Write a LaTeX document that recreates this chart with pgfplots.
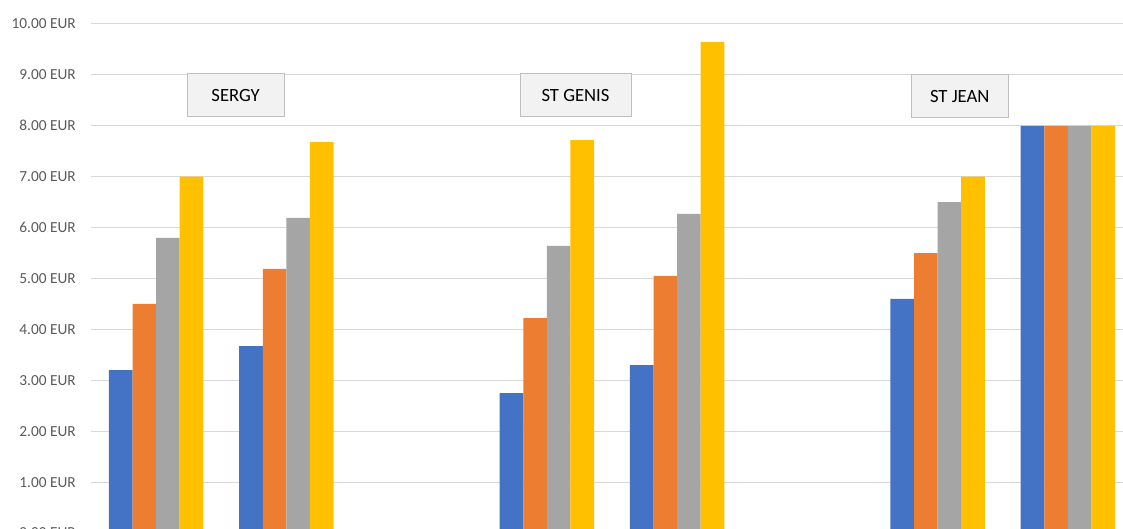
\documentclass[border=0pt]{standalone}
\usepackage{pgfplots}
\pgfplotsset{compat=1.18}
\usepackage{fontspec}
\setmainfont{Carlito}

\definecolor{xblue}{HTML}{4472C4}
\definecolor{xorange}{HTML}{ED7D31}
\definecolor{xgray}{HTML}{A5A5A5}
\definecolor{xyellow}{HTML}{FFC000}
\definecolor{gridc}{HTML}{D9D9D9}
\definecolor{txt}{HTML}{595959}

\begin{document}
\begin{tikzpicture}
\begin{axis}[
    scale only axis,
    width=781.5pt, height=381.75pt,
    xmin=-0.5, xmax=7.5,
    ymin=0, ymax=10,
    ybar=0pt,
    bar width=17.7pt,
    xtick=\empty,
    ytick={0,1,...,10},
    ymajorgrids=true,
    grid style={gridc, line width=0.75pt},
    axis line style={draw=none},
    major tick length=0pt,
    yticklabel style={
        /pgf/number format/.cd, fixed, fixed zerofill, precision=2,
        assume math mode=true,
        /tikz/.cd, font=\fontsize{11.5}{13}\selectfont, text=txt,
        inner xsep=0pt, xshift=-11.25pt},
    yticklabel={\pgfmathprintnumber{\tick} EUR},
    clip=false,
]
    % SERGY (0,1), ST GENIS (3,4), ST JEAN (6,7)
    \addplot[draw=none, fill=xblue]
        coordinates {(0,3.20) (1,3.67) (3,2.75) (4,3.30) (6,4.60) (7,8.00)};
    \addplot[draw=none, fill=xorange]
        coordinates {(0,4.50) (1,5.19) (3,4.22) (4,5.05) (6,5.50) (7,8.00)};
    \addplot[draw=none, fill=xgray]
        coordinates {(0,5.80) (1,6.19) (3,5.64) (4,6.27) (6,6.50) (7,8.00)};
    \addplot[draw=none, fill=xyellow]
        coordinates {(0,7.00) (1,7.68) (3,7.72) (4,9.65) (6,7.00) (7,8.00)};

    \tikzset{lbl/.style={draw=black!25, fill=black!5, line width=0.75pt,
        minimum height=32.25pt, inner sep=0pt,
        font=\fontsize{14}{16}\selectfont}}
    \node[lbl, minimum width=72.75pt] at (axis cs:0.61,8.6) {SERGY};
    \node[lbl, minimum width=83.25pt] at (axis cs:3.22,8.6) {ST GENIS};
    \node[lbl, minimum width=72.5pt] at (axis cs:6.17,8.58) {ST JEAN};

    \coordinate (O) at (rel axis cs:0,0);
\end{axis}
\pgfresetboundingbox
\useasboundingbox ([shift={(-68.25pt,3.75pt)}]O) rectangle ([shift={(774pt,399.75pt)}]O);
\end{tikzpicture}
\end{document}
